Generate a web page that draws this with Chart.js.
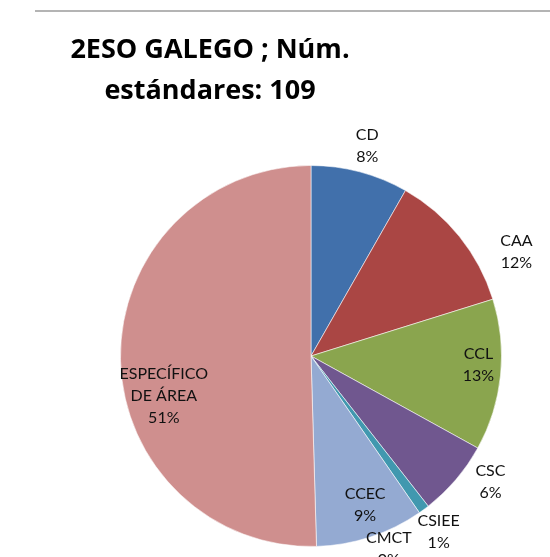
<!DOCTYPE html>
<html>
<head>
<meta charset="utf-8">
<script src="https://cdn.jsdelivr.net/npm/chart.js@4"></script>
<style>
  body { margin: 0; background: #fff; }
  canvas { display: block; }
</style>
</head>
<body>
<canvas id="myChart" width="550" height="557"></canvas>
<script>
// standards per competence, 2ESO GALEGO (109 in total)
var labels = ["CD", "CAA", "CCL", "CSC", "CSIEE", "CMCT", "CCEC", "ESPECÍFICO DE ÁREA"];
var counts = [9, 13, 14, 7, 1, 0, 10, 55];
var percents = ["8%", "12%", "13%", "6%", "1%", "0%", "9%", "51%"];
var titleLines = ["2ESO GALEGO ; Núm.", "estándares: 109"];

var colors = ["#4170ab", "#aa4644", "#8aa54e", "#70578f", "#4198af", "#db843d", "#94aad2", "#cf8f8e"];
// where each label sits: angle (deg, clockwise from top) and radius factor
var labelPos = [[15, 1.14], [63, 1.21], [93, 0.88], [125, 1.15], [144, 1.14], [158, 1.09], [160, 0.83], [255, 0.80]];
var labelLines = [["CD"], ["CAA"], ["CCL"], ["CSC"], ["CSIEE"], ["CMCT"], ["CCEC"], ["ESPECÍFICO", "DE ÁREA"]];

var decor = {
  id: 'decor',
  afterDraw: function(chart) {
    var ctx = chart.ctx;
    ctx.save();
    // frame line on top
    ctx.strokeStyle = '#b4b4b4';
    ctx.lineWidth = 2;
    ctx.beginPath();
    ctx.moveTo(35, 11);
    ctx.lineTo(550, 11);
    ctx.stroke();

    // title
    ctx.fillStyle = '#000';
    ctx.font = 'bold 27px "Open Sans"';
    ctx.textAlign = 'center';
    ctx.textBaseline = 'alphabetic';
    ctx.fillText(titleLines[0], 210, 58);
    ctx.fillText(titleLines[1], 210, 99);

    // data labels
    var arc = chart.getDatasetMeta(0).data[0];
    var cx = arc.x, cy = arc.y, r = arc.outerRadius;
    ctx.font = '16px Lato';
    ctx.fillStyle = '#111';
    ctx.textBaseline = 'middle';
    for (var i = 0; i < labels.length; i++) {
      var a = labelPos[i][0] * Math.PI / 180;
      var x = cx + Math.sin(a) * r * labelPos[i][1];
      var y = cy - Math.cos(a) * r * labelPos[i][1];
      var lines = labelLines[i].concat([percents[i]]);
      var lh = 22;
      var y0 = y - (lines.length - 1) * lh / 2;
      for (var j = 0; j < lines.length; j++) {
        ctx.fillText(lines[j], x, y0 + j * lh);
      }
    }
    ctx.restore();
  }
};

var ctx = document.getElementById("myChart").getContext('2d');
var myChart = new Chart(ctx, {
  type: 'pie',
  data: {
    labels: labels,
    datasets: [{
      data: counts,
      backgroundColor: colors,
      borderColor: 'rgba(255,255,255,0.55)',
      borderWidth: 1
    }]
  },
  options: {
    responsive: false,
    animation: { duration: 0 },
    layout: { padding: { left: 120, right: 48, top: 165, bottom: 10 } },
    plugins: {
      legend: { display: false },
      tooltip: { enabled: false },
      title: { display: false }
    }
  },
  plugins: [decor]
});
</script>
</body>
</html>
